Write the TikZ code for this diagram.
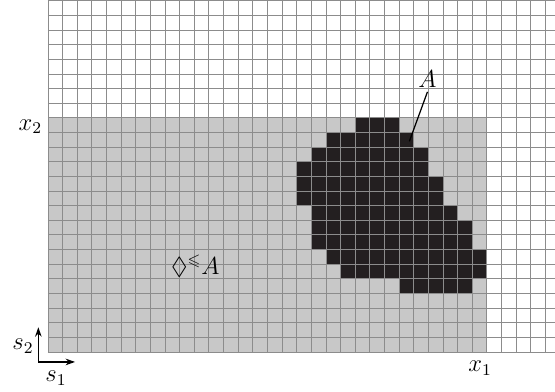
\documentclass[tikz,border=0pt]{standalone}
\usepackage{amsmath}
\usepackage{amssymb}
\usepackage{xcolor}
\usepackage{tikz}
\usetikzlibrary{arrows.meta}
\definecolor{gridGray}{HTML}{8C8C8C}
\definecolor{regionGray}{HTML}{C8C8C8}
\definecolor{cellDark}{HTML}{231F20}

\begin{document}
\begin{tikzpicture}[>={Stealth[length=4.6pt, width=3.2pt]}, x=0.25cm, y=0.25cm, font=\large]
	% Marco
	\clip[use as bounding box] (-3.281,-2.666) rectangle (34.655,24.06);
	
	% Region y celdas de A
	\fill[regionGray] (0,0) rectangle (30,16);
	\foreach \y/\a/\b in {15/21/23, 14/19/24, 13/18/25, 12/17/25, 11/17/26, 10/17/26, 9/18/27, 8/18/28, 7/18/28, 6/19/29, 5/20/29, 4/24/28}
		\fill[cellDark] (\a,\y) rectangle ({\b+1},{\y+1});
	
	% Rejilla
	\draw[gridGray, line width=0.45pt, step=1] (0,0) grid (35,25);
	
	% Etiquetas
	\node[anchor=base west, inner sep=0pt] (etiqX2) at (-2.03,15.17) {$x_2$};
	\node[anchor=base west, inner sep=0pt] (etiqX1) at (28.71,-1.35) {$x_1$};
	\node[anchor=base west, inner sep=0pt] (etiqS2) at (-2.46,0.14) {$s_2$};
	\node[anchor=base west, inner sep=0pt] (etiqS1) at (-0.2,-2.05) {$s_1$};
	\node[anchor=base west, inner sep=0pt] (etiqRegion) at (8.39,5.31) {$\lozenge^{\leqslant}A$};
	\node[anchor=base west, inner sep=0pt] (etiqA) at (25.29,18.09) {$A$};
	
	% Ejes y flecha
	\coordinate (origen) at (-0.66,-0.68);
	\coordinate (finS1) at (1.85,-0.68);
	\coordinate (finS2) at (-0.66,1.69);
	\coordinate (puntaA) at (24.7,14.4);
	\draw[->, line width=0.6pt] (origen) -- (finS1);
	\draw[->, line width=0.6pt] (origen) -- (finS2);
	\draw[line width=0.6pt] ([yshift=-2pt]etiqA.south) -- (puntaA);
\end{tikzpicture}
\end{document}
